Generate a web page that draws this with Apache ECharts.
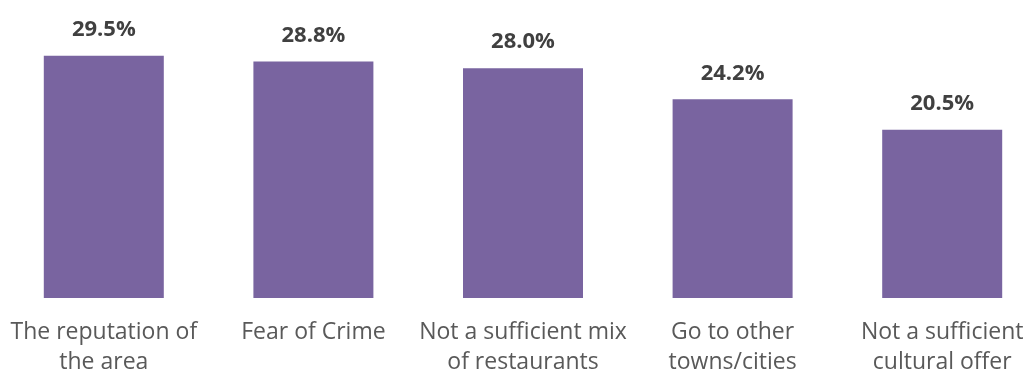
<!DOCTYPE html>
<html>
<head>
<meta charset="utf-8">
<script src="https://cdn.jsdelivr.net/npm/echarts@6/dist/echarts.min.js"></script>
<style>
  html, body { margin: 0; padding: 0; background: #fff; }
  #chart { width: 1028px; height: 374px; }
</style>
</head>
<body>
<div id="chart"></div>
<script>
// Reasons for not visiting the town centre (share of respondents, %)
const categories = [
  'The reputation of\nthe area',
  'Fear of Crime',
  'Not a sufficient mix\nof restaurants',
  'Go to other\ntowns/cities',
  'Not a sufficient\ncultural offer'
];
const values = [29.5, 28.8, 28.0, 24.2, 20.5];

const chart = echarts.init(document.getElementById('chart'));
chart.setOption({
  animation: false,
  grid: { left: -1, right: -19, top: 0, bottom: 76, outerBoundsMode: 'none' },
  xAxis: {
    type: 'category',
    data: categories,
    axisLine: { show: false },
    axisTick: { show: false },
    axisLabel: {
      interval: 0,
      margin: 19,
      color: '#595959',
      fontFamily: 'Open Sans',
      fontSize: 23,
      lineHeight: 30
    }
  },
  yAxis: {
    type: 'value',
    min: 0,
    max: 36.3,
    show: false,
    splitLine: { show: false }
  },
  series: [{
    type: 'bar',
    data: values,
    barWidth: 120,
    itemStyle: { color: '#7964A0' },
    label: {
      show: true,
      position: 'top',
      distance: 15,
      formatter: p => p.value.toFixed(1) + '%',
      color: '#404040',
      fontFamily: 'Open Sans',
      fontWeight: 'bold',
      fontSize: 22
    }
  }]
});
</script>
</body>
</html>
